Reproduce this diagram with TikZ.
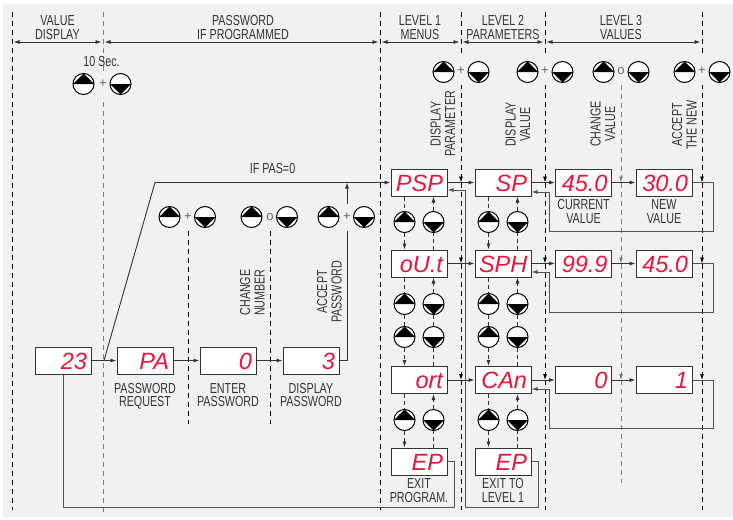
\documentclass[tikz,border=0pt]{standalone}
\usepackage{fontspec}
\setmainfont{Liberation Sans}[FakeStretch=0.74]
\newfontfamily\segfont{Liberation Sans}
\usetikzlibrary{positioning,arrows.meta,calc}

\definecolor{paper}{HTML}{F1F1F1}
\definecolor{ink}{HTML}{333333}
\definecolor{segred}{HTML}{E5173F}
\definecolor{guidegray}{HTML}{7C7C7C}

\pgfdeclarelayer{back}
\pgfsetlayers{back,main}

\tikzset{
  >={Latex[length=6pt,width=4pt]},
  display/.style={draw=ink, line width=1pt, fill=white, minimum width=56pt, minimum height=27pt,
    text width=48pt, align=right, inner xsep=4pt, inner ysep=0pt, text height=17pt, text depth=0pt,
    text=segred, font=\segfont\itshape\fontsize{23.5}{24}\selectfont},
  lab/.style={text=ink, inner sep=0pt, font=\fontsize{14.5}{11.7}\selectfont},
  rlab/.style={text=ink, inner sep=0pt, rotate=90, font=\fontsize{14.5}{14.5}\selectfont},
  head/.style={text=ink, inner sep=0pt, font=\fontsize{14.5}{13}\selectfont},
  keyup/.style={circle, draw=black, line width=1pt, fill=white, minimum size=21pt, inner sep=0pt,
    path picture={\fill[black] (path picture bounding box.west) -- (path picture bounding box.north)
      -- (path picture bounding box.east) -- cycle;}},
  keydown/.style={circle, draw=black, line width=1pt, fill=white, minimum size=21pt, inner sep=0pt,
    path picture={\fill[black] (path picture bounding box.west) -- (path picture bounding box.south)
      -- (path picture bounding box.east) -- cycle;}},
  sign/.style={fill=paper, text=ink!75, inner xsep=0.2pt, inner ysep=0pt, minimum height=27pt,
    font=\segfont\fontsize{13}{13}\selectfont},
  guide/.style={draw=black, line width=0.8pt, dash pattern=on 5pt off 4pt},
  guidegrey/.style={guide, draw=guidegray},
  link/.style={draw=ink, line width=0.8pt, dash pattern=on 4pt off 3pt},
  flow/.style={draw=ink, line width=0.9pt},
  loopline/.style={draw=ink!85, line width=1pt},
  span/.style={draw=ink, line width=0.8pt, <->},
}

\begin{document}
\begin{tikzpicture}[x=1pt, y=-1pt]
\useasboundingbox (0,0) rectangle (733,519);
\begin{pgfonlayer}{back}
  \fill[paper] (3,4) rectangle (733,517);
\end{pgfonlayer}

% headings
\node[head] (hvalue) at (57.5,29) {\begin{tabular}{c}VALUE\\DISPLAY\end{tabular}};
\node[head] (hpass) at (243,29) {\begin{tabular}{c}PASSWORD\\IF PROGRAMMED\end{tabular}};
\node[head] (hlev1) at (420,29) {\begin{tabular}{c}LEVEL 1\\MENUS\end{tabular}};
\node[head] (hlev2) at (503,29) {\begin{tabular}{c}LEVEL 2\\PARAMETERS\end{tabular}};
\node[head] (hlev3) at (621,29) {\begin{tabular}{c}LEVEL 3\\VALUES\end{tabular}};
\foreach \n/\x in {1/12,2/103,3/380,4/461,5/545,6/702}
  \coordinate (g\n) at (\x,42);
\foreach \a/\b in {1/2,2/3,3/4,4/5,5/6}
  \draw[span] ([xshift=1.5pt]g\a) -- ([xshift=-1.5pt]g\b);
\coordinate (top) at (0,12);
\coordinate (bot) at (0,510);

% value display and password
\node[display] (d23) at (63,360.5) {23};
\node[display, label={[lab,label distance=8.5pt]below:{\begin{tabular}{c}PASSWORD\\REQUEST\end{tabular}}}] (pa) at (145,360.5) {PA};
\node[display, label={[lab,label distance=8.5pt]below:{\begin{tabular}{c}ENTER\\PASSWORD\end{tabular}}}] (pw) at (228,360.5) {0};
\node[display, label={[lab,label distance=8.5pt]below:{\begin{tabular}{c}DISPLAY\\PASSWORD\end{tabular}}}] (pwshow) at (311,360.5) {3};

% level 1
\node[display] (psp) at (419,182.5) {PSP};
\node[display] (out) at (419,263.5) {oU.t};
\node[display] (ort) at (419,380) {ort};
\node[display, label={[lab,label distance=3pt]below:{\begin{tabular}{c}EXIT\\PROGRAM.\end{tabular}}}] (ep1) at (419,461.5) {EP};
% level 2
\node[display] (sp) at (503,182.5) {SP};
\node[display] (sph) at (503,263.5) {SPH};
\node[display] (can) at (503,380) {CAn};
\node[display, label={[lab,label distance=3pt]below:{\begin{tabular}{c}EXIT TO\\LEVEL 1\end{tabular}}}] (ep2) at (503,461.5) {EP};
% level 3
\node[display, label={[lab,label distance=3pt]below:{\begin{tabular}{c}CURRENT\\VALUE\end{tabular}}}] (sp0) at (583.5,182.5) {45.0};
\node[display, label={[lab,label distance=3pt]below:{\begin{tabular}{c}NEW\\VALUE\end{tabular}}}] (sp1) at (664,182.5) {30.0};
\node[display] (sph0) at (583.5,263.5) {99.9};
\node[display] (sph1) at (664,263.5) {45.0};
\node[display] (can0) at (583.5,380) {0};
\node[display] (can1) at (664,380) {1};

% keys in the menu columns
\foreach \col/\xu in {m/404.5,p/488.5}
  \foreach \row/\y in {1/222,2/304,3/337,4/420}{
    \node[keyup] (u\col\row) at (\xu,\y) {};
    \node[keydown] (d\col\row) at (\xu+29,\y) {};
  }

% key groups
\node[keyup] (ku0) at (83.5,84) {};
\node[keydown] (kd0) at (120.5,84) {};
\node[sign] (s0) at (103,84) {+};
\node[head] (tensec) at (101.5,62) {10 Sec.};
\foreach \n/\x/\t in {A/461/+,B/545/+,C/621/o,D/702/+}{
  \node[keyup] (ku\n) at (\x-17.5,72) {};
  \node[keydown] (kd\n) at (\x+17.5,72) {};
  \node[sign] (s\n) at (\x,71) {\t};
}
\foreach \n/\x/\t in {E/188/+,F/270/o,G/347/+}{
  \node[keyup] (ku\n) at (\x-18.5,217) {};
  \node[keydown] (kd\n) at (\x+17,217) {};
  \node[sign] (s\n) at (\x,217) {\t};
}

% key texts
\node[rlab] (tdpar) at (445,124) {\begin{tabular}{c}DISPLAY\\PARAMETER\end{tabular}};
\node[rlab] (tdval) at (520,124.5) {\begin{tabular}{c}DISPLAY\\VALUE\end{tabular}};
\node[rlab] (tchval) at (605,124) {\begin{tabular}{c}CHANGE\\VALUE\end{tabular}};
\node[rlab] (taccnew) at (686.5,125) {\begin{tabular}{c}ACCEPT\\THE NEW\end{tabular}};
\node[rlab] (tchnum) at (254.5,292.5) {\begin{tabular}{c}CHANGE\\NUMBER\end{tabular}};
\node[rlab] (taccpw) at (331.5,292) {\begin{tabular}{c}ACCEPT\\PASSWORD\end{tabular}};
\node[lab] (ifpas) at (272.5,169) {IF PAS=0};

% menu columns
\foreach \a/\k/\b in {psp/m1/out,ort/m4/ep1,sp/p1/sph,can/p4/ep2}{
  \draw[link] (u\k |- \a.south) -- (u\k);
  \draw[link,->] (u\k) -- (u\k |- \b.north);
  \draw[link] (d\k |- \b.north) -- (d\k);
  \draw[link,->] (d\k) -- (d\k |- \a.south);
}
\foreach \a/\k/\l/\b in {out/m2/m3/ort,sph/p2/p3/can}{
  \draw[link] (u\k |- \a.south) -- (u\k) (u\k) -- (u\l);
  \draw[link,->] (u\l) -- (u\l |- \b.north);
  \draw[link] (d\l |- \b.north) -- (d\l) (d\l) -- (d\k);
  \draw[link,->] (d\k) -- (d\k |- \a.south);
}

% steps
\draw[flow,->] (d23) -- (pa);
\draw[flow,->] (pa) -- (pw);
\draw[flow,->] (pw) -- (pwshow);
\foreach \a/\b in {psp/sp,sp/sp0,sp0/sp1,out/sph,sph/sph0,sph0/sph1,ort/can,can/can0,can0/can1}
  \draw[flow,->] (\a) -- (\b);
\coordinate (fork) at ($(d23.east)!0.5!(pa.west)$);
\coordinate (pas) at (155,182.5);
\draw[flow,->] (fork) -- (pas) -- (psp);

% returns
\draw[loopline,->] (sp1.east) -| (713,231) -| (549,192) -- ([yshift=-9.5pt]sp.east);
\draw[loopline,->] (sph1.east) -| (713,312) -| (549,272) -- ([yshift=-8.5pt]sph.east);
\draw[loopline,->] (can1.east) -| (713,428) -| (549,389) -- ([yshift=-9pt]can.east);
\draw[loopline,->] (ep2.east) -| (538,507) -| (465,190) -- ([yshift=-7.5pt]psp.east);
\draw[loopline] (ep1.east) -| (454,507) -| (d23.south);

\begin{pgfonlayer}{back}
  \draw[flow,->] (pwshow.east) -| (sG |- pas);
  \foreach \x in {12,380}
    \draw[guide] (\x,12) -- (\x,510);
  \draw[guidegrey] (s0 |- top) -- (s0 |- 0,514);
  \foreach \s in {sA,sB,sD}{
    \draw[guide,->] (\s |- top) -- (\s |- psp);
    \draw[guide,->] (\s |- psp) -- (\s |- out);
    \draw[guide,->] (\s |- out) -- (\s |- ort);
    \draw[guide] (\s |- ort) -- (\s |- bot);
  }
  \draw[guidegrey,->] (sC) -- (sC |- psp);
  \draw[guidegrey,->] (sC |- psp) -- (sC |- out);
  \draw[guidegrey,->] (sC |- out) -- (sC |- ort);
  \draw[guidegrey] (sC |- ort) -- (sC |- 0,483);
  \draw[guide] (sE) -- (sE |- 0,424);
  \draw[guide] (sF) -- (sF |- 0,424);
\end{pgfonlayer}
\end{tikzpicture}
\end{document}
